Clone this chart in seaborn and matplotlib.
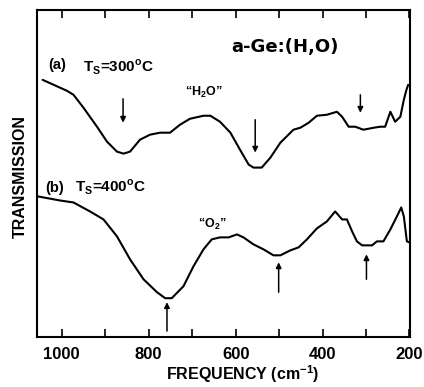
import matplotlib
matplotlib.use("Agg")
import matplotlib.pyplot as plt
import seaborn as sns
import pandas as pd

# ---- data (frequency in cm^-1, transmission in arbitrary units) ----
freq_a = [1044, 988, 973, 950, 919, 896, 873, 858, 843, 820, 797, 774, 751, 728,
          705, 674, 658, 636, 612, 590, 570, 559, 540, 520, 497, 467, 451, 432,
          413, 390, 367, 355, 340, 325, 306, 282, 267, 256, 244, 233, 221, 213,
          207, 203]
trans_a = [258, 247, 243, 230, 211, 196, 186, 184, 186, 198, 203, 205, 205, 213,
           219, 222, 222, 216, 205, 188, 173, 170, 170, 180, 195, 208, 210, 215,
           222, 223, 226, 221, 211, 211, 208, 210, 211, 211, 226, 216, 221, 238,
           248, 253]

freq_b = [1054, 1004, 973, 935, 904, 873, 843, 812, 781, 762, 747, 720, 697, 674,
          655, 636, 616, 597, 582, 559, 536, 513, 497, 474, 455, 436, 413, 390,
          371, 355, 344, 332, 321, 309, 286, 275, 260, 244, 229, 219, 213, 206,
          200]
trans_b = [141, 137, 135, 126, 118, 101, 78, 58, 45, 39, 39, 51, 71, 88,
           98, 100, 100, 103, 100, 93, 88, 82, 82, 87, 90, 98, 109, 116,
           126, 118, 118, 106, 96, 92, 92, 96, 96, 108, 121, 130, 121, 96,
           95]

# arrows: (frequency, tail, head)
arrows_a = [(859, 239, 215), (555, 218, 185), (313, 243, 225)]
arrows_b = [(758, 6, 35), (501, 45, 75), (299, 58, 83)]

tick_values = list(range(200, 1001, 100))
tick_labels = ["200", "", "400", "", "600", "", "800", "", "1000"]

df = pd.concat([
    pd.DataFrame({"freq": freq_a, "trans": trans_a, "curve": "a"}),
    pd.DataFrame({"freq": freq_b, "trans": trans_b, "curve": "b"}),
])

sns.set_theme(style="white")
plt.rcParams["font.family"] = ["Liberation Sans", "DejaVu Sans"]
plt.rcParams["mathtext.fontset"] = "custom"
plt.rcParams["mathtext.bf"] = "Liberation Sans:bold"
plt.rcParams["mathtext.rm"] = "Liberation Sans:bold"
plt.rcParams["text.color"] = "black"
plt.rcParams["axes.labelcolor"] = "black"
plt.rcParams["xtick.color"] = "black"

fig = plt.figure(figsize=(4.24, 3.87), dpi=100)
ax = fig.add_axes([0.0873, 0.129, 0.880, 0.845])

sns.lineplot(data=df, x="freq", y="trans", units="curve", estimator=None,
             color="black", lw=1.5, ax=ax, legend=False)

for f, t0, t1 in arrows_a + arrows_b:
    ax.annotate("", xy=(f, t1), xytext=(f, t0),
                arrowprops=dict(arrowstyle="-|>", lw=1.1, color="black",
                                mutation_scale=8, shrinkA=0, shrinkB=0))

ax.set_xlim(1057, 198.5)
ax.set_ylim(0, 328)
ax.set_xticks(tick_values)
ax.set_xticklabels(tick_labels, fontsize=12, fontweight="bold", color="black")
ax.set_yticks([])
ax.tick_params(axis="x", direction="in", length=6, width=1.2, top=True,
               bottom=True, pad=7, colors="black")
for s in ax.spines.values():
    s.set_color("black")
    s.set_linewidth(1.5)
ax.set_xlabel("")
ax.set_ylabel("")

ax.text(486, 291, "a-Ge:(H,O)", fontsize=13, fontweight="bold",
        family="DejaVu Sans", ha="center", va="center", color="black")
ax.text(1031, 273, "(a)", fontsize=10.5, fontweight="bold", ha="left",
        va="center", color="black")
ax.text(951, 271, r"T$_{\mathbf{S}}$=300$^{\mathbf{o}}$C", fontsize=11,
        fontweight="bold", ha="left", va="center", color="black")
ax.text(672, 245, r"“H$_{\mathbf{2}}$O”", fontsize=9, fontweight="bold",
        ha="center", va="center", color="black")
ax.text(1038, 150, "(b)", fontsize=10.5, fontweight="bold", ha="left",
        va="center", color="black")
ax.text(969, 150, r"T$_{\mathbf{S}}$=400$^{\mathbf{o}}$C", fontsize=11,
        fontweight="bold", ha="left", va="center", color="black")
ax.text(654, 113, r"“O$_{\mathbf{2}}$”", fontsize=9, fontweight="bold",
        ha="center", va="center", color="black")

fig.text(243 / 424, 1 - 374 / 387, r"FREQUENCY (cm$^{\mathbf{-1}}$)",
         fontsize=11.5, fontweight="bold", ha="center", va="center", color="black")
fig.text(20 / 424, 1 - 177 / 387, "TRANSMISSION", fontsize=11.5,
         fontweight="bold", rotation=90, ha="center", va="center", color="black")

fig.savefig("out.png", dpi=100)
